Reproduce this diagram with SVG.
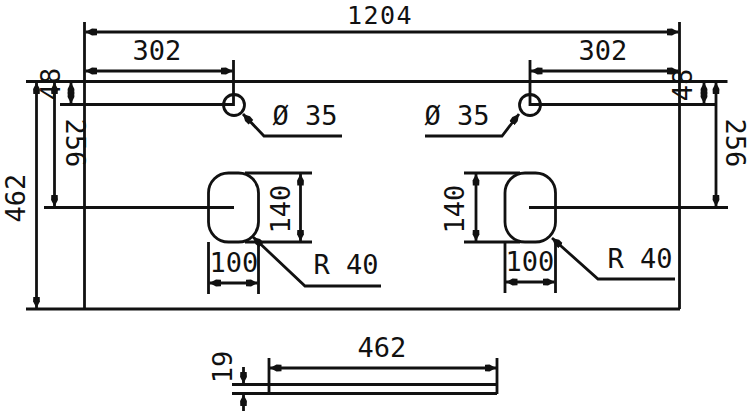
<svg xmlns="http://www.w3.org/2000/svg" width="752" height="414" viewBox="0 0 752 414">
<defs>
<marker id="ah" viewBox="0 0 12 8" refX="11.500" refY="4" markerWidth="12" markerHeight="8" markerUnits="userSpaceOnUse" orient="auto-start-reverse"><path d="M0 .8 L5 .6 L11.500 4 L5 7.400 L0 7.200Z" fill="#111"/></marker>
</defs>
<style>
.l{fill:none;stroke:#111;stroke-width:2.800}
.d{fill:none;stroke:#111;stroke-width:2.800;marker-start:url(#ah);marker-end:url(#ah)}
.e{fill:none;stroke:#111;stroke-width:2.800;marker-end:url(#ah)}
text{font-family:"DejaVu Sans Mono","Liberation Mono",monospace;font-size:27px;fill:#111;text-anchor:middle}
</style>
<rect width="752" height="414" fill="#fff"/>
<g id="outline">
<path class="l" d="M26 81.500H727.500M26 309H680M84.500 22V309M679.500 22V309"/>
</g>
<g id="hole-left"><circle class="l" cx="234" cy="105" r="10.500"/></g>
<g id="hole-right"><circle class="l" cx="530" cy="105" r="10.500"/></g>
<g id="basin-left"><rect class="l" x="208.500" y="173" width="50" height="69" rx="20" ry="20"/></g>
<g id="basin-right"><rect class="l" x="505" y="173" width="50.500" height="69" rx="20" ry="20"/></g>
<g id="edge-view"><path class="l" d="M232 384.500H497M232 393.500H497M497 358V394M269 358V394"/></g>
<g id="connectors">
<path class="l" d="M233.500 60V105M530 60V105M60 104.500H234.900M528.600 104.500H716.500M44 207.500H234M529 207.500H728"/>
<path class="l" d="M245 173H312M245 242H312M464 173H520M464 242H520M208.500 242V294M258.500 242V294M505 242V293M555.500 242V293"/>
<path class="d" d="M85.500 32H678.500"/>
<path class="d" d="M85.500 71H232.500"/>
<path class="d" d="M531 71H678.500"/>
<path class="d" d="M71 82.500V103.500"/>
<path class="d" d="M704 82.500V103.500"/>
<path class="d" d="M54.500 82.500V206.500"/>
<path class="d" d="M716 82.500V206.500"/>
<path class="d" d="M36.500 82.500V308"/>
<path class="d" d="M300.500 174V241"/>
<path class="d" d="M476 174V241"/>
<path class="d" d="M209.500 283H257.500"/>
<path class="d" d="M506 282H554.500"/>
<path class="d" d="M270 368H496"/>
<path class="e" d="M243.500 367V383.500"/>
<path class="e" d="M243.500 411V394.500"/>
<path class="e" d="M342 136H264L243 114"/>
<path class="e" d="M425 136H502L519 114"/>
<path class="e" d="M381 286H305L253 237"/>
<path class="e" d="M675 279H598L552 238"/>
</g>
<g id="labels">
<text x="380" y="23.500" style="font-size:25px;letter-spacing:1.500px">1204</text>
<text x="157" y="60">302</text>
<text x="603" y="60">302</text>
<text x="305" y="125">Ø 35</text>
<text x="457" y="125">Ø 35</text>
<text x="234" y="272">100</text>
<text x="530" y="271">100</text>
<text x="346" y="274">R 40</text>
<text x="640" y="268">R 40</text>
<text x="382" y="357">462</text>
<text transform="translate(60 84) rotate(-90)">48</text>
<text transform="translate(692 85) rotate(-90)">48</text>
<text transform="translate(66 143) rotate(90)">256</text>
<text transform="translate(726 143) rotate(90)">256</text>
<text transform="translate(25 198) rotate(-90)">462</text>
<text transform="translate(290 209) rotate(-90)">140</text>
<text transform="translate(464 209) rotate(-90)">140</text>
<text transform="translate(232 367) rotate(-90)">19</text>
</g>
</svg>
